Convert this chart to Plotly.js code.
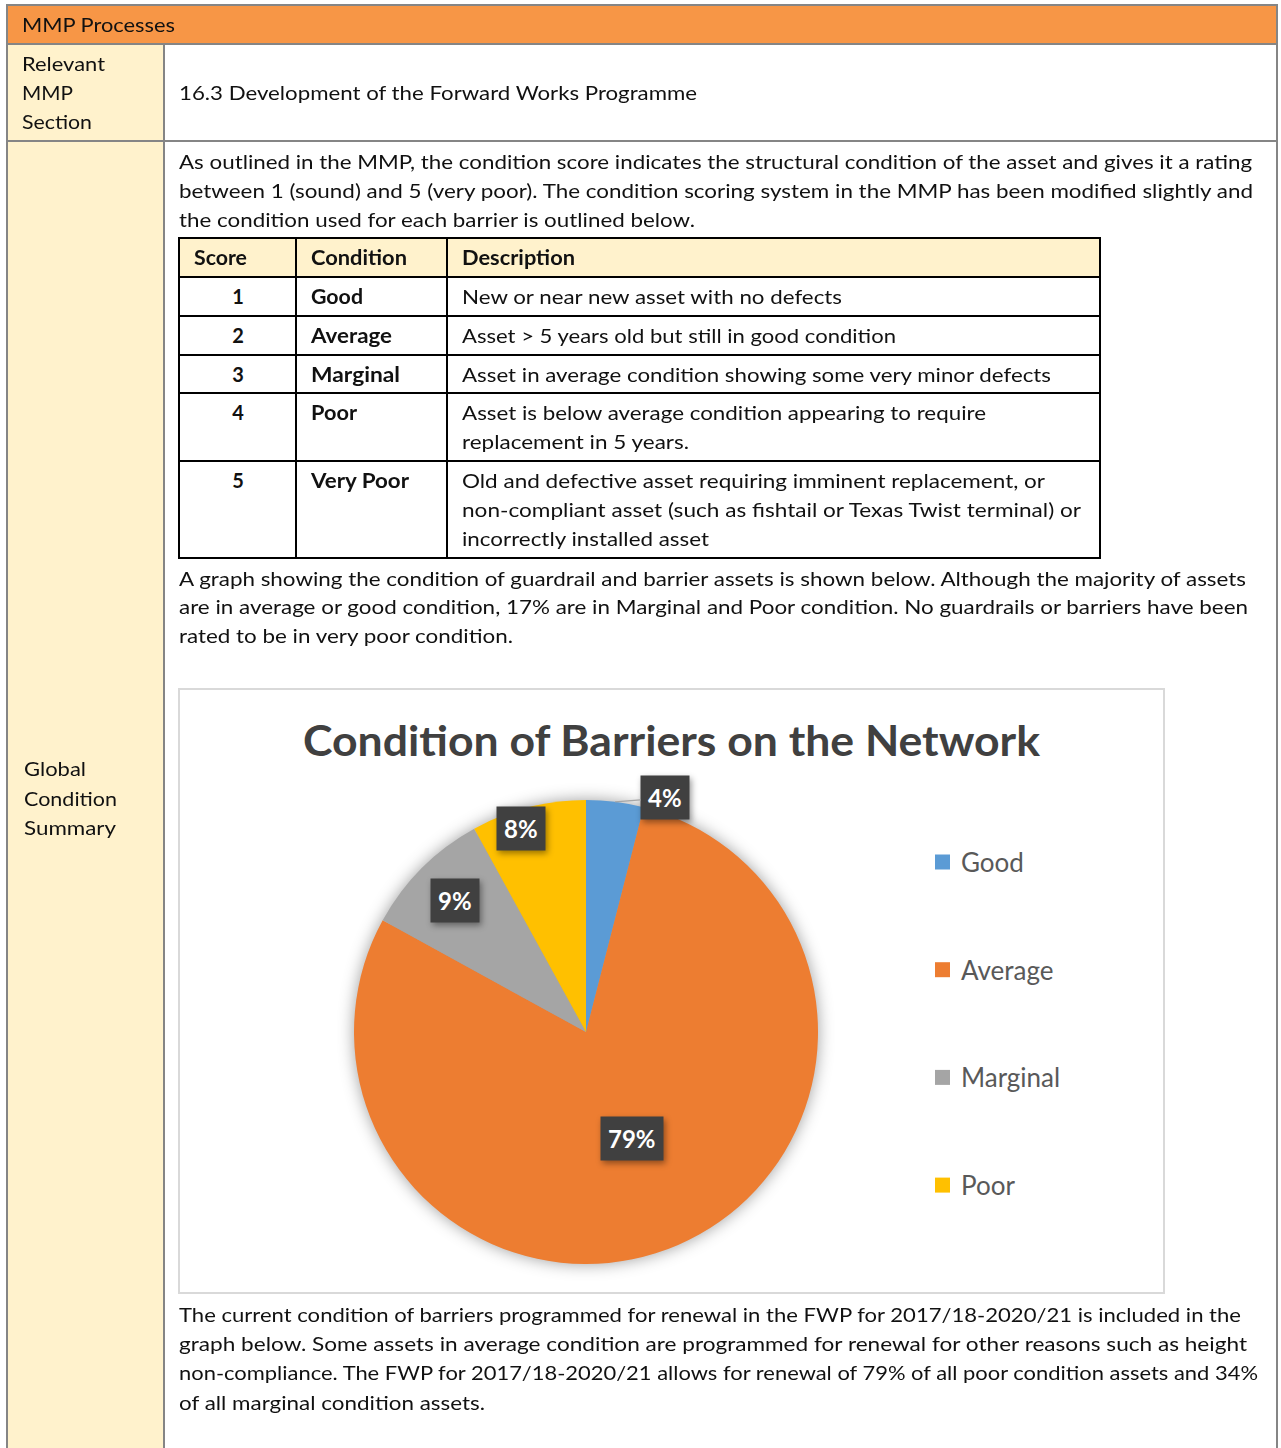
<!DOCTYPE html>
<html><head><meta charset="utf-8">
<script src="https://cdn.plot.ly/plotly-3.0.1.min.js"></script>
<style>
body{margin:0;background:#fff;width:1281px;height:1448px;overflow:hidden;position:relative;font-family:Lato,'Open Sans',sans-serif;color:#111;}
.r{position:absolute;}
.t{position:absolute;white-space:nowrap;font-size:20px;line-height:32px;transform-origin:0 50%;}
.b{font-weight:bold;}
.pielayer{filter:drop-shadow(0 0 8px rgba(0,0,0,0.38));}
.annotation rect.bg{filter:drop-shadow(2px 3px 3px rgba(0,0,0,0.4));}
</style></head>
<body>
<div id="box" class="r" style="left:178px;top:688px;width:987px;height:606px;box-sizing:border-box;border:2px solid #d9d9d9;"></div>
<div id="chart" class="r" style="left:180px;top:690px;width:983px;height:602px;"></div>
<script>
// ---- chart data ----
const labels = ['Good', 'Average', 'Marginal', 'Poor'];
const values = [4, 79, 9, 8];
const chartTitle = 'Condition of Barriers on the Network';

// ---- document helpers ----
function rect(x, y, w, h, c) {
  const d = document.createElement('div');
  d.className = 'r';
  d.style.cssText = `left:${x}px;top:${y}px;width:${w}px;height:${h}px;background:${c};`;
  document.body.appendChild(d);
}
function put(txt, x, yc, w, bold, center) {
  const d = document.createElement('div');
  d.className = 't' + (bold ? ' b' : '');
  d.textContent = txt;
  d.style.left = x + 'px';
  d.style.top = (yc - 17) + 'px';
  document.body.appendChild(d);
  const m = d.getBoundingClientRect().width;
  if (center) { d.style.left = (x - m / 2) + 'px'; }
  else if (w) { d.style.transform = 'scaleX(' + (w / m) + ')'; }
}
const GR = '#858585', BEIGE = '#FFF2CC';
// outer frame
rect(8, 6, 1268, 37, '#F79646');
rect(8, 45, 155, 95, BEIGE);
rect(8, 142, 155, 1306, BEIGE);
rect(6, 4, 1272, 2, GR);
rect(6, 4, 2, 1444, GR);
rect(1276, 4, 2, 1444, GR);
rect(6, 43, 1272, 2, GR);
rect(6, 140, 1272, 2, GR);
rect(163, 45, 2, 1403, GR);

put('MMP Processes', 22, 25, 153);
put('Relevant', 22, 64, 83);
put('MMP', 22, 93, 51);
put('Section', 22, 122, 70);
put('16.3 Development of the Forward Works Programme', 179, 93, 518);
put('Global', 24, 769, 62);
put('Condition', 24, 799, 93);
put('Summary', 24, 828, 92);

// paragraph 1
put('As outlined in the MMP, the condition score indicates the structural condition of the asset and gives it a rating', 179, 162, 1073);
put('between 1 (sound) and 5 (very poor). The condition scoring system in the MMP has been modified slightly and', 179, 191, 1074);
put('the condition used for each barrier is outlined below.', 179, 220, 516);

// inner table
rect(178, 237, 923, 40, BEIGE);
const hl = [237, 276, 315, 354, 392, 460, 557];
hl.forEach(y => rect(178, y, 923, 2, '#000'));
[178, 295, 446, 1099].forEach(x => rect(x, 237, 2, 322, '#000'));
put('Score', 194, 258, 53, true);
put('Condition', 311, 258, 96, true);
put('Description', 462, 258, 113, true);
const rows = [
  ['1', 'Good', 297, 52, [['New or near new asset with no defects', 380]]],
  ['2', 'Average', 336, 81, [['Asset > 5 years old but still in good condition', 434]]],
  ['3', 'Marginal', 375, 89, [['Asset in average condition showing some very minor defects', 589]]],
  ['4', 'Poor', 413, 46, [['Asset is below average condition appearing to require', 524], ['replacement in 5 years.', 227]]],
  ['5', 'Very Poor', 481, 98, [['Old and defective asset requiring imminent replacement, or', 583], ['non-compliant asset (such as fishtail or Texas Twist terminal) or', 619], ['incorrectly installed asset', 247]]]
];
rows.forEach(r => {
  put(r[0], 238, r[2], 0, true, true);
  put(r[1], 311, r[2], r[3], true);
  r[4].forEach((ln, i) => put(ln[0], 462, r[2] + i * 29, ln[1]));
});

// paragraph 2
put('A graph showing the condition of guardrail and barrier assets is shown below. Although the majority of assets', 179, 579, 1067);
put('are in average or good condition, 17% are in Marginal and Poor condition. No guardrails or barriers have been', 179, 607, 1069);
put('rated to be in very poor condition.', 179, 636, 334);

// paragraph 3
put('The current condition of barriers programmed for renewal in the FWP for 2017/18-2020/21 is included in the', 179, 1315, 1062);
put('graph below.  Some assets in average condition are programmed for renewal for other reasons such as height', 179, 1344, 1068);
put('non-compliance. The FWP for 2017/18-2020/21 allows for renewal of 79% of all poor condition assets and 34%', 179, 1373, 1079);
put('of all marginal condition assets.', 179, 1403, 306);

// ---- chart ----
const colors = ['#5B9BD5', '#ED7D31', '#A5A5A5', '#FFC000'];
const W = 983, H = 602;
const CX = 406, CY = 342, R = 232;
const total = values.reduce((a, b) => a + b, 0);
const px2x = p => p / W, py2y = p => 1 - p / H;

const annotations = [];
const shapes = [];
let cum = 0;
const radFrac = [1.0, 0.5, 0.8, 0.92];
const angShift = [0, 0, 0, -0.06];
values.forEach((v, i) => {
  const mid = (cum + v / 2) / total * 2 * Math.PI + angShift[i];
  cum += v;
  const f = radFrac[i];
  const px = CX + Math.sin(mid) * R * f;
  const py = CY - Math.cos(mid) * R * f;
  const pct = Math.round(v / total * 100) + '%';
  const a = {
    x: px2x(px), y: py2y(py), xref: 'paper', yref: 'paper', xanchor: 'center', yanchor: 'middle',
    text: pct, font: {family: 'Lato, sans-serif', size: 24, color: '#ffffff', weight: 700},
    bgcolor: '#404040', borderpad: 7, showarrow: false
  };
  if (i === 0) {
    Object.assign(a, {showarrow: true, arrowhead: 0, arrowwidth: 1.2, arrowcolor: '#a6a6a6', ax: 50, ay: -4, standoff: 0});
  }
  annotations.push(a);
});

// legend (manual, spaced like the reference)
labels.forEach((lab, i) => {
  const yc = 172 + i * 107.7;
  shapes.push({type: 'rect', xref: 'paper', yref: 'paper', x0: px2x(755), x1: px2x(770),
    y0: py2y(yc + 7.5), y1: py2y(yc - 7.5), fillcolor: colors[i], line: {width: 0}});
  annotations.push({x: px2x(779), y: py2y(yc), xref: 'paper', yref: 'paper', xanchor: 'left', yanchor: 'middle',
    text: lab, showarrow: false, font: {family: 'Lato, sans-serif', size: 26, color: '#595959'}});
});

const data = [{
  type: 'pie', labels: labels, values: values, sort: false, direction: 'clockwise', rotation: 0,
  marker: {colors: colors, line: {width: 0}}, textinfo: 'none', hoverinfo: 'none', showlegend: false,
  domain: {x: [(CX - R) / W, (CX + R) / W], y: [1 - (CY + R) / H, 1 - (CY - R) / H]}
}];
const layout = {
  width: W, height: H, margin: {l: 0, r: 0, t: 0, b: 0},
  paper_bgcolor: '#ffffff', plot_bgcolor: '#ffffff', showlegend: false,
  title: {text: chartTitle, x: 0.5, xanchor: 'center', y: py2y(51), yanchor: 'middle',
    font: {family: 'Lato, sans-serif', size: 42, color: '#404040', weight: 700}},
  annotations: annotations, shapes: shapes
};
Plotly.newPlot('chart', data, layout, {displayModeBar: false, staticPlot: true}).then(gd => {
  const t = gd.querySelector('.gtitle');
  if (t) { t.setAttribute('textLength', '737'); t.setAttribute('lengthAdjust', 'spacingAndGlyphs'); }
});
</script>
</body></html>
